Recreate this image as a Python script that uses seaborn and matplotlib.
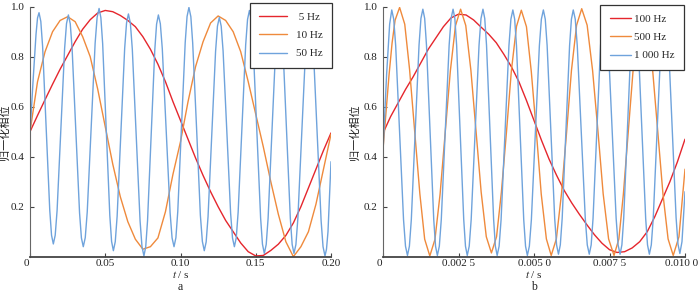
import numpy as np
import pandas as pd
import matplotlib
matplotlib.use("Agg")
import matplotlib.pyplot as plt
from matplotlib import transforms
import seaborn as sns

# ---------------- data ----------------
# Panel a: 5 Hz, 10 Hz (uniform time grid 0..0.2 s, step 0.005 s)
t_grid_a = np.round(np.arange(41) * 0.005, 4)
v_5hz = [0.50, 0.565, 0.628, 0.69, 0.75, 0.805, 0.86, 0.91, 0.948, 0.975,
         0.985, 0.98, 0.965, 0.945, 0.92, 0.88, 0.83, 0.77, 0.70, 0.62,
         0.545, 0.47, 0.395, 0.325, 0.26, 0.20, 0.145, 0.10, 0.055, 0.02,
         0.003, 0.005, 0.025, 0.05, 0.085, 0.135, 0.20, 0.275, 0.35, 0.425,
         0.495]
v_10hz = [0.50, 0.70, 0.82, 0.90, 0.945, 0.96, 0.94, 0.88, 0.80, 0.67,
          0.52, 0.37, 0.24, 0.14, 0.07, 0.03, 0.04, 0.075, 0.18, 0.33,
          0.46, 0.62, 0.76, 0.86, 0.935, 0.963, 0.945, 0.90, 0.82, 0.70,
          0.57, 0.44, 0.30, 0.17, 0.06, 0.0, 0.04, 0.10, 0.21, 0.35,
          0.49]
# Panel a: 50 Hz
t_50hz = [0, .002, .004, .005, .006,
          .00719, .00838, .01075, .01313, .01431, .0155,
          .01675, .018, .0205, .023, .02425, .0255,
          .02674, .02798, .03045, .03293, .03416, .0354,
          .03671, .03803, .04065, .04328, .04459, .0459,
          .04709, .04828, .05065, .05303, .05421, .0554,
          .05665, .0579, .0604, .0629, .06415, .0654,
          .06669, .06798, .07055, .07313, .07441, .0757,
          .0769, .0781, .0805, .0829, .0841, .0853,
          .0866, .0879, .0905, .0931, .0944, .0957,
          .09694, .09818, .10065, .10313, .10436, .1056,
          .10688, .1081, .1107, .1132, .11453, .1158,
          .11705, .1183, .1208, .1233, .12455, .1258,
          .12705, .1283, .1308, .1333, .13455, .1358,
          .13705, .1383, .1408, .1433, .14455, .1458,
          .14704, .14828, .15075, .15323, .15446, .1557,
          .15695, .1582, .1607, .1632, .16445, .1657,
          .16691, .16813, .17055, .17298, .17419, .1754,
          .17669, .17798, .18055, .18313, .18441, .1857,
          .18699, .18828, .19085, .19343, .19471, .196,
          .197, .198, .2]
v_50hz = [.49, .70, .89, .955, .976,
          .941, .841, .514, .186, .086, .051,
          .086, .185, .509, .833, .932, .967,
          .932, .832, .504, .175, .075, .040,
          .076, .179, .517, .854, .957, .993,
          .956, .852, .509, .165, .061, .024,
          .060, .162, .498, .833, .935, .971,
          .934, .830, .487, .144, .040, .003,
          .040, .144, .485, .826, .930, .967,
          .932, .832, .504, .175, .075, .040,
          .076, .180, .519, .857, .961, .997,
          .960, .855, .511, .166, .061, .024,
          .059, .160, .491, .821, .922, .957,
          .922, .823, .499, .174, .075, .040,
          .076, .178, .513, .847, .949, .985,
          .948, .843, .499, .155, .050, .013,
          .049, .153, .492, .830, .934, .970,
          .934, .830, .492, .153, .049, .013,
          .049, .153, .492, .830, .934, .970,
          .933, .829, .487, .144, .040, .003,
          .03, .10, .38]

# Panel b: 100 Hz (uniform grid 0..0.01 s, step 0.00025 s)
t_grid_b = np.round(np.arange(41) * 0.00025, 6)
v_100hz = [0.494, 0.56, 0.615, 0.67, 0.72, 0.775, 0.83, 0.875, 0.92, 0.955,
           0.97, 0.967, 0.947, 0.918, 0.89, 0.856, 0.81, 0.76, 0.70, 0.625,
           0.545, 0.465, 0.39, 0.325, 0.265, 0.215, 0.17, 0.128, 0.088, 0.054,
           0.028, 0.017, 0.02, 0.035, 0.06, 0.10, 0.16, 0.23, 0.30, 0.38,
           0.47]
# Panel b: 500 Hz
t_500hz = [0, .0001, .0002, .0003, .0004, .00055, .00072, .00088, .00105, .00122,
           .00138, .00155, .00172, .00189, .00206, .00223, .0024, .00257, .00274, .00291,
           .00308, .00325, .00342, .00359, .00376, .00392, .00409, .00425, .00442, .00458,
           .00475, .00491, .00508, .00524, .00541, .00557, .00574, .00591, .00608, .00624,
           .00641, .00658, .00676, .00694, .00712, .00729, .00747, .00765, .00781, .00796,
           .00812, .00828, .00843, .00859, .00876, .00893, .0091, .00927, .00944, .00961,
           .0098, .01]
v_500hz = [.43, .578, .727, .854, .946, .997, .930, .749, .50, .252,
           .070, .003, .069, .250, .497, .743, .924, .99, .925, .746,
           .503, .259, .080, .015, .080, .258, .501, .743, .921, .986,
           .920, .741, .496, .250, .071, .005, .071, .252, .499, .745,
           .926, .992, .926, .745, .499, .252, .071, .005, .071, .251,
           .498, .744, .924, .99, .924, .744, .498, .251, .071, .005,
           .08, .35]
# Panel b: 1 000 Hz
t_1000hz = [0, .00012, .00022, .00029,
            .000355, .00042, .00055, .00068, .000745, .00081,
            .000874, .000938, .001065, .001193, .001256, .00132,
            .00138, .00144, .00156, .00168, .00174, .0018,
            .001865, .00193, .00206, .00219, .002255, .00232,
            .002379, .002438, .002555, .002673, .002731, .00279,
            .002855, .00292, .00305, .00318, .003245, .00331,
            .003369, .003428, .003545, .003663, .003721, .00378,
            .003845, .00391, .00404, .00417, .004235, .0043,
            .00436, .00442, .00454, .00466, .00472, .00478,
            .004846, .004913, .005045, .005178, .005244, .00531,
            .005373, .005435, .00556, .005685, .005748, .00581,
            .005871, .005933, .006055, .006178, .006239, .0063,
            .006366, .006433, .006565, .006698, .006764, .00683,
            .006893, .006955, .00708, .007205, .007268, .00733,
            .007395, .00746, .00759, .00772, .007785, .00785,
            .00791, .00797, .00809, .00821, .00827, .00833,
            .008391, .008453, .008575, .008698, .008759, .00882,
            .008884, .008948, .009075, .009203, .009266, .00933,
            .009393, .009455, .00958, .009705, .009768, .00983,
            .0099, .01]
v_1000hz = [.42, .73, .93, .987,
            .950, .844, .496, .148, .042, .005,
            .042, .149, .4975, .846, .953, .99,
            .953, .846, .4975, .149, .042, .005,
            .042, .149, .4975, .846, .953, .99,
            .953, .846, .4975, .149, .042, .005,
            .042, .149, .4975, .846, .953, .99,
            .953, .846, .4975, .149, .042, .005,
            .042, .148, .496, .844, .950, .987,
            .950, .844, .496, .148, .042, .005,
            .042, .148, .496, .844, .950, .987,
            .950, .844, .4985, .153, .047, .01,
            .047, .153, .4985, .844, .950, .987,
            .950, .844, .4985, .153, .047, .01,
            .047, .153, .50, .847, .953, .99,
            .953, .847, .50, .153, .047, .01,
            .047, .153, .50, .847, .953, .99,
            .953, .847, .50, .153, .047, .01,
            .047, .153, .50, .847, .953, .99,
            .953, .847, .5015, .156, .050, .013,
            .06, .26]

labels_a = [" 5 Hz", "10 Hz", "50 Hz"]
labels_b = ["100 Hz", "500 Hz", "1 000 Hz"]
xticks_a = [0, 0.05, 0.10, 0.15, 0.20]
xticklabels_a = ["0", "0.05", "0.10", "0.15", "0.20"]
xticks_b = [0, 0.0025, 0.005, 0.0075, 0.01]
xticklabels_b = ["0", "0.002 5", "0.005 0", "0.007 5", "0.010 0"]
yticks = [0.2, 0.4, 0.6, 0.8, 1.0]
yticklabels = ["0.2", "0.4", "0.6", "0.8", "1.0"]
ylabel = "归一化相位"

# ---------------- style ----------------
sns.set_style("ticks")
plt.rcParams["font.family"] = ["Liberation Serif", "Noto Sans CJK SC"]
plt.rcParams["mathtext.fontset"] = "stix"

colors = ["#e5262d", "#ef8a3c", "#6fa3dc"]


def long_frame(series, names):
    parts = []
    for (t, v), n in zip(series, names):
        parts.append(pd.DataFrame({"t": np.asarray(t, float), "v": np.asarray(v, float), "s": n}))
    return pd.concat(parts, ignore_index=True)


df_a = long_frame([(t_grid_a, v_5hz), (t_grid_a, v_10hz), (t_50hz, v_50hz)], labels_a)
df_b = long_frame([(t_grid_b, v_100hz), (t_500hz, v_500hz), (t_1000hz, v_1000hz)], labels_b)

fig = plt.figure(figsize=(7.0, 2.95), dpi=100)
H = 295.0
W = 700.0
ax_a = fig.add_axes([30 / W, 1 - 256.7 / H, 301 / W, 250 / H])
ax_b = fig.add_axes([383 / W, 1 - 256.7 / H, 302 / W, 250 / H])


def draw(ax, df, names, xlim, xticks, xticklabels, sub, leg_anchor, hl, htp, ylab_x):
    sns.lineplot(data=df, x="t", y="v", hue="s", hue_order=names,
                 palette=colors, estimator=None, sort=False, lw=1.0,
                 ax=ax, legend=False)
    ax.set_xlim(*xlim)
    ax.set_ylim(0, 1.0)
    ax.set_xticks(xticks)
    ax.set_xticklabels(xticklabels)
    ax.set_yticks(yticks)
    ax.set_yticklabels(yticklabels)
    sns.despine(ax=ax)
    for side, lw, c in (("left", 0.8, "#666666"), ("bottom", 1.3, "#444444")):
        ax.spines[side].set_linewidth(lw)
        ax.spines[side].set_color(c)
    ax.tick_params(axis="both", direction="in", length=3, width=0.8,
                   color="#444444", labelsize=8, labelcolor="#222222")
    ax.tick_params(axis="x", pad=2)
    ax.tick_params(axis="y", pad=4)
    # origin "0" label sits a little to the left of the origin
    xl = ax.get_xticklabels()
    off0 = transforms.ScaledTranslation(-4 / 100, 0, fig.dpi_scale_trans)
    xl[0].set_transform(xl[0].get_transform() + off0)
    ax.set_xlabel("$t$ / s", fontsize=8, labelpad=0.5, color="#222222")
    ax.set_ylabel(ylabel, fontsize=8, color="#222222")
    ax.yaxis.set_label_coords(ylab_x, 0.5)
    ax.text(0.5, -0.12, sub, transform=ax.transAxes, ha="center", va="center",
            fontsize=8.5, color="#222222")
    handles = ax.get_lines()[:3]
    leg = ax.legend(handles, names, loc="upper right", bbox_to_anchor=leg_anchor,
                    borderaxespad=0, frameon=True, fancybox=False, framealpha=1,
                    edgecolor="#333333", fontsize=8, handlelength=hl,
                    handletextpad=htp, labelspacing=0.75, borderpad=0.85)
    leg.get_frame().set_linewidth(0.9)
    return xl


draw(ax_a, df_a, labels_a, (0, 0.2), xticks_a, xticklabels_a, "a", (1.003, 1.015), 2.5, 0.8, -0.066)
xl_b = draw(ax_b, df_b, labels_b, (0, 0.01), xticks_b, xticklabels_b, "b", (0.997, 1.007), 1.9, 0.3, -0.078)
offl = transforms.ScaledTranslation(-3 / 100, 0, fig.dpi_scale_trans)
xl_b[-1].set_transform(xl_b[-1].get_transform() + offl)

fig.savefig("out.png", dpi=100)
